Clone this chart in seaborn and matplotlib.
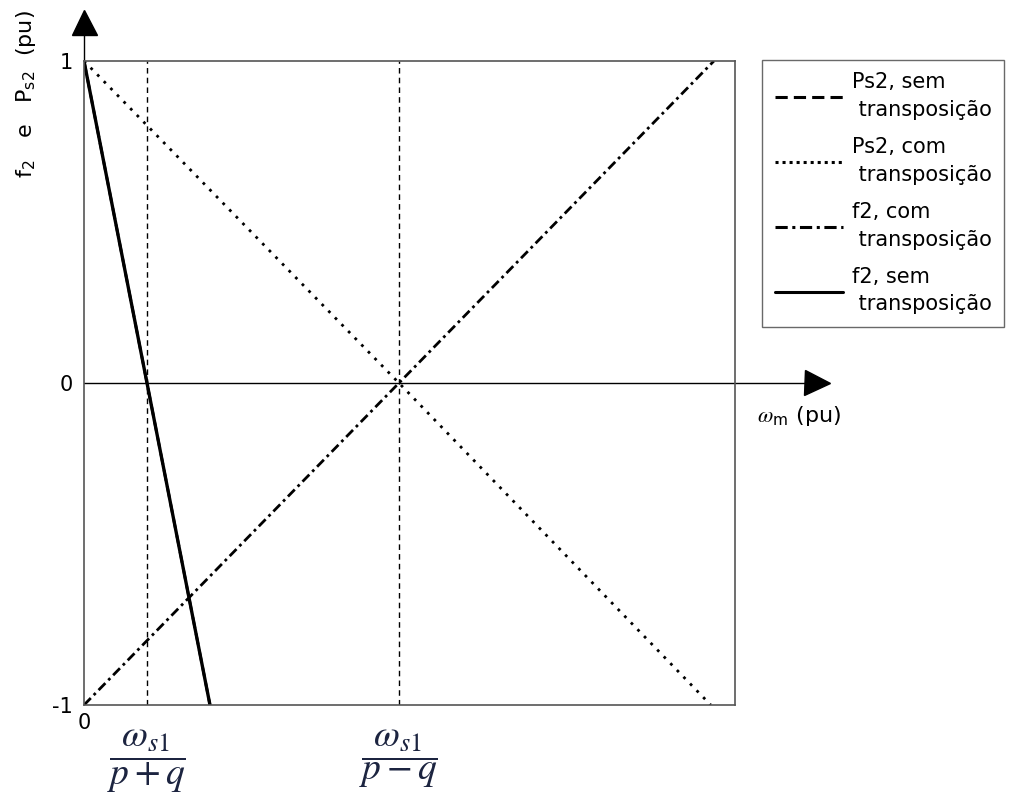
import matplotlib
matplotlib.use("Agg")
import matplotlib.pyplot as plt
import matplotlib.transforms as mtransforms
from matplotlib.lines import Line2D
import numpy as np
import pandas as pd
import seaborn as sns

sns.set_style("white")
plt.rcParams["font.family"] = ["DejaVu Sans"]
plt.rcParams["mathtext.fontset"] = "stix"
plt.rcParams["text.color"] = "black"
plt.rcParams["xtick.color"] = "black"
plt.rcParams["ytick.color"] = "black"

FS = 15

# rotor speed positions (pu) and curve values
wm_low = 0.2    # omega_s1 / (p + q)
wm_high = 1.0   # omega_s1 / (p - q)

x_f2_sem = [0.0, 0.2, 0.4]
y_f2_sem = [1.0, 0.0, -1.0]
x_ps2_sem = [0.0, 0.2, 0.4]
y_ps2_sem = [1.0, 0.0, -1.0]
x_ps2_com = [0.0, 1.0, 1.99]
y_ps2_com = [1.0, 0.0, -1.0]
x_f2_com = [0.0, 1.0, 2.0]
y_f2_com = [-1.0, 0.0, 1.0]

y_ticks = [-1, 0, 1]
y_tick_labels = ["-1", "0", "1"]
x_tick_labels = [r"$\dfrac{\omega_{s1}}{p+q}$", r"$\dfrac{\omega_{s1}}{p-q}$"]

legend_labels = ["Ps2, sem\n transposição", "Ps2, com\n transposição",
                 "f2, com\n transposição", "f2, sem\n transposição"]

fig = plt.figure(figsize=(10.11, 7.96), dpi=100)
ax = fig.add_axes([84 / 1011, 1 - 705 / 796, 651 / 1011, 644 / 796])

df = pd.concat([
    pd.DataFrame({"x": x_ps2_sem, "y": y_ps2_sem, "s": "ps2_sem"}),
    pd.DataFrame({"x": x_ps2_com, "y": y_ps2_com, "s": "ps2_com"}),
    pd.DataFrame({"x": x_f2_com, "y": y_f2_com, "s": "f2_com"}),
    pd.DataFrame({"x": x_f2_sem, "y": y_f2_sem, "s": "f2_sem"}),
])

styles = {
    "ps2_sem": dict(lw=2.0, dashes=(4, 2)),
    "ps2_com": dict(lw=2.0, dashes=(1, 2.4)),
    "f2_com": dict(lw=2.0, dashes=(3.5, 1.5, 1, 1.5)),
    "f2_sem": dict(lw=2.4, dashes=()),
}

for key, st in styles.items():
    sub = df[df["s"] == key]
    line_ax = sns.lineplot(data=sub, x="x", y="y", ax=ax, color="black",
                           lw=st["lw"], sort=False, estimator=None)
    line = line_ax.lines[-1]
    if st["dashes"]:
        line.set_dashes(st["dashes"])
    line.set_solid_capstyle("butt")
    line.set_dash_capstyle("butt")

# reference speeds
for xv in (wm_low, wm_high):
    ax.axvline(xv, color="black", lw=1.0, ls=(0, (4, 3)), zorder=1)

# horizontal zero axis
ax.axhline(0, color="black", lw=1.0, zorder=1)

ax.set_xlim(0, 2.067)
ax.set_ylim(-1, 1)
for sp in ax.spines.values():
    sp.set_color("#555555")
    sp.set_linewidth(1.2)
    sp.set_visible(True)

ax.set_yticks(y_ticks)
ax.set_yticklabels(y_tick_labels, fontsize=FS)
ax.set_xticks([wm_low, wm_high])
ax.set_xticklabels(x_tick_labels, fontsize=27, color="#1c2440")
ax.tick_params(axis="y", length=0, pad=8)
ax.tick_params(axis="x", length=0, pad=16)
ax.set_xlabel("")
ax.set_ylabel("")
ax.text(0, -1.025, "0", ha="center", va="top", fontsize=FS)

# axis arrows
blend_x = mtransforms.blended_transform_factory(ax.transAxes, ax.transData)
ax.plot([1.0, 1.13], [0, 0], transform=blend_x, color="black", lw=1.0, clip_on=False)
ax.plot([1.126], [0], transform=blend_x, marker=">", ms=18, color="black", clip_on=False)
blend_y = mtransforms.blended_transform_factory(ax.transData, ax.transAxes)
ax.plot([0, 0], [1.0, 1.06], transform=blend_y, color="black", lw=1.0, clip_on=False)
ax.plot([0], [1.06], transform=blend_y, marker="^", ms=18, color="black", clip_on=False)

fig.text(757 / 1011, 1 - 416 / 796, r"$\omega_{\mathregular{m}}$ (pu)", fontsize=16,
         ha="left", va="center")
fig.text(26 / 1011, 1 - 10 / 796,
         r"f$_{\mathregular{2}}$   e   P$_{\mathregular{s2}}$  (pu)",
         rotation=90, fontsize=16, ha="center", va="top")

handles = [
    Line2D([], [], color="black", lw=2.2, dashes=(4, 2)),
    Line2D([], [], color="black", lw=2.2, dashes=(1, 1.3)),
    Line2D([], [], color="black", lw=2.2, dashes=(4, 1.5, 1, 1.5)),
    Line2D([], [], color="black", lw=2.2),
]
leg = fig.legend(handles, legend_labels, loc="upper left",
                 bbox_to_anchor=(762 / 1011, 1 - 60 / 796),
                 fontsize=FS, frameon=True, fancybox=False, edgecolor="#444444",
                 handlelength=3.3, handletextpad=0.4, labelspacing=0.85,
                 borderpad=0.6, borderaxespad=0)
for t in leg.get_texts():
    t.set_linespacing(1.45)
leg.get_frame().set_linewidth(1.0)

fig.savefig("out.png", dpi=100)
